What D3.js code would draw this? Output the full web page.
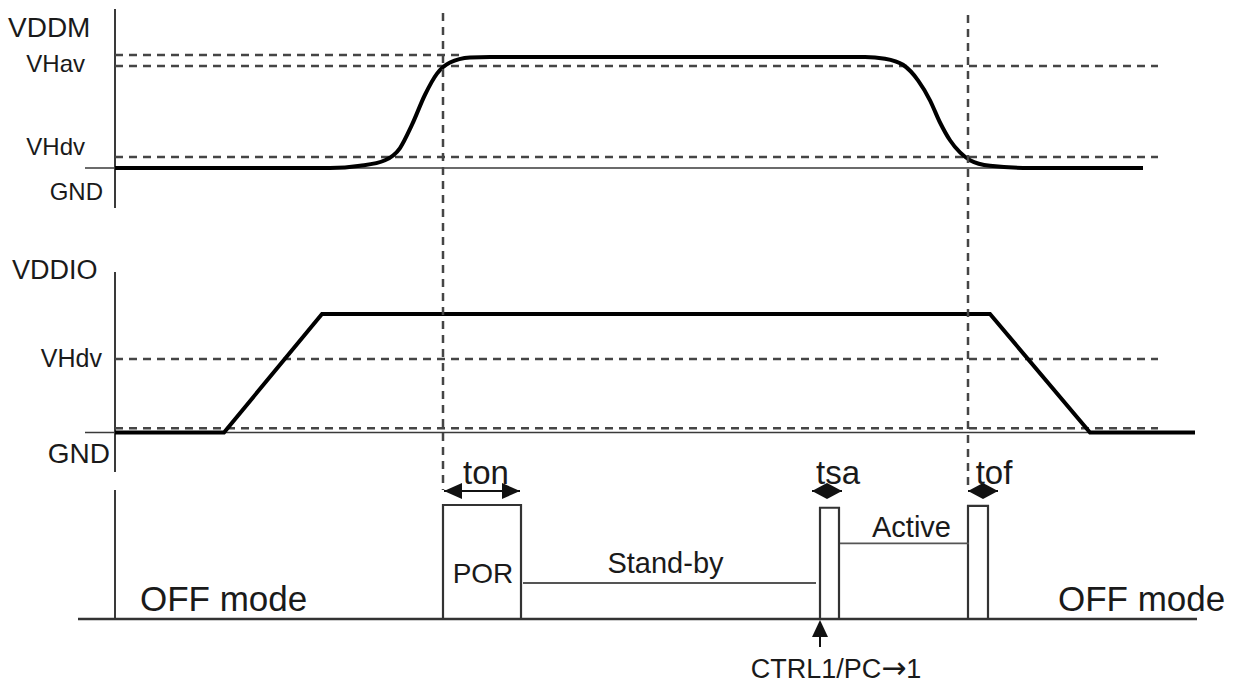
<!DOCTYPE html>
<html>
<head>
<meta charset="utf-8">
<script src="https://cdn.jsdelivr.net/npm/d3@7"></script>
<style>
  body { margin: 0; background: #fff; }
  text { font-family: "Liberation Sans", Arial, sans-serif; fill: #1a1a1a; }
</style>
</head>
<body>
<svg id="chart"></svg>
<script>
// time runs in arbitrary units, 0 = the vertical axes
// VDDM supply: [time, fraction of full level]
var vddmPoints = [[0, 0], [21.5, 0], [24.5, 0.02], [27, 0.07], [28.5, 0.18], [29.7, 0.39], [31, 0.66],
                  [32.2, 0.85], [33.5, 0.95], [35.5, 0.995], [37.5, 1], [75, 1], [77, 0.985], [78.8, 0.93],
                  [80.3, 0.79], [81.5, 0.61], [82.5, 0.41], [83.5, 0.25], [84.5, 0.14], [85.5, 0.07],
                  [87.5, 0.02], [91.5, 0], [102.8, 0]];
var vddmThresholds = [1.018, 0.919, 0.099];
var vddmThresholdEnds = [34.5, 104.3, 104.3];
var vddmLabels = ["VDDM", "VHav", "VHdv", "GND"];

// VDDIO supply
var vddioPoints = [[0, 0], [10.9, 0], [20.7, 1], [87.5, 1], [97.5, 0], [108, 0]];
var vddioThresholds = [0.62, 0.035];
var vddioThresholdEnds = [104.3, 104.3];
var vddioLabels = ["VDDIO", "VHdv", "GND"];

// event markers (dashed verticals)
var markerTimes = [32.8, 85.3];

// pulses in the mode row
var pulseStart = [32.8, 70.5, 85.3];
var pulseEnd = [40.6, 72.4, 87.3];
var pulseLevel = [1, 0.976, 0.993];

// steady states between pulses
var stateNames = ["Stand-by", "Active"];
var stateStart = [40.8, 72.5];
var stateEnd = [70.1, 85.4];
var stateLevel = [0.316, 0.664];

// timing arrows
var spanNames = ["ton", "tsa", "tof"];
var spanStart = [32.9, 69.7, 85.3];
var spanEnd = [40.5, 72.7, 88.3];

var offModeTimes = [2.5, 94.3];
var ctrlTime = 70.5;
var ctrlLabel = ["CTRL1/PC", "\u2192", "1"];

var width = 1236, height = 685;
var svg = d3.select("#chart").attr("width", width).attr("height", height);

var x = d3.scaleLinear().domain([0, 108]).range([115, 1195]);
var yTop = d3.scaleLinear().domain([0, 1]).range([168, 57]);
var yMid = d3.scaleLinear().domain([0, 1]).range([432.5, 314]);
var yBot = d3.scaleLinear().domain([0, 1]).range([619, 505]);

var axisColor = "#3a3a3a", dashColor = "#454545";

function vline(x0, y0, y1, w) {
	svg.append("line").attr("x1", x0).attr("x2", x0).attr("y1", y0).attr("y2", y1)
	   .attr("stroke", axisColor).attr("stroke-width", w || 2);
}
function hline(x0, x1, y0, w, c) {
	svg.append("line").attr("x1", x0).attr("x2", x1).attr("y1", y0).attr("y2", y0)
	   .attr("stroke", c || axisColor).attr("stroke-width", w || 1.5);
}
function label(txt, px, py, size, anchor) {
	return svg.append("text").attr("x", px).attr("y", py).attr("font-size", size)
	   .attr("text-anchor", anchor || "start").text(txt);
}

// ---- VDDM panel ----
vline(x(0), 9, 208);
hline(x(-3), x(102.5), yTop(0), 1.5);
svg.selectAll(".thTop").data(vddmThresholds).enter().append("line")
   .attr("x1", x(0)).attr("x2", function(d, i) { return x(vddmThresholdEnds[i]); })
   .attr("y1", function(d) { return yTop(d); }).attr("y2", function(d) { return yTop(d); })
   .attr("stroke", dashColor).attr("stroke-width", 2.5).attr("stroke-dasharray", "8,6");

var lineTop = d3.line().x(function(d) { return x(d[0]); }).y(function(d) { return yTop(d[1]); })
                .curve(d3.curveMonotoneX);
svg.append("path").datum(vddmPoints).attr("d", lineTop)
   .attr("fill", "none").attr("stroke", "#000").attr("stroke-width", 4);

label(vddmLabels[0], 8, 37, 28);
label(vddmLabels[1], 85, yTop(vddmThresholds[1]) + 6, 24, "end");
label(vddmLabels[2], 85, yTop(vddmThresholds[2]) - 2, 24, "end");
label(vddmLabels[3], 103, yTop(0) + 32, 24, "end");

// ---- VDDIO panel ----
vline(x(0), 272, 472);
hline(x(-3), x(108), yMid(0), 1.5);
svg.selectAll(".thMid").data(vddioThresholds).enter().append("line")
   .attr("x1", x(0)).attr("x2", function(d, i) { return x(vddioThresholdEnds[i]); })
   .attr("y1", function(d) { return yMid(d); }).attr("y2", function(d) { return yMid(d); })
   .attr("stroke", dashColor).attr("stroke-width", 2.5).attr("stroke-dasharray", "8,6");

var lineMid = d3.line().x(function(d) { return x(d[0]); }).y(function(d) { return yMid(d[1]); });
svg.append("path").datum(vddioPoints).attr("d", lineMid)
   .attr("fill", "none").attr("stroke", "#000").attr("stroke-width", 4)
   .attr("stroke-linejoin", "miter");

label(vddioLabels[0], 12, 279, 27);
label(vddioLabels[1], 102, yMid(vddioThresholds[0]) + 8, 25, "end");
label(vddioLabels[2], 110, yMid(0) + 30, 28, "end");

// ---- event markers ----
svg.selectAll(".marker").data(markerTimes).enter().append("line")
   .attr("x1", function(d) { return x(d); }).attr("x2", function(d) { return x(d); })
   .attr("y1", function(d, i) { return i === 0 ? 13 : 15; }).attr("y2", 490)
   .attr("stroke", dashColor).attr("stroke-width", 2.5).attr("stroke-dasharray", "8,6");

// ---- mode row ----
vline(x(0), 490, yBot(0));
hline(x(-3.7), x(108.2), yBot(0), 2.5, "#333");

svg.selectAll(".pulse").data(pulseStart).enter().append("path")
   .attr("d", function(d, i) {
   	var x0 = x(d), x1 = x(pulseEnd[i]), yb = yBot(0), yt = yBot(pulseLevel[i]);
   	return "M" + x0 + "," + yb + "V" + yt + "H" + x1 + "V" + yb;
   })
   .attr("fill", "none").attr("stroke", "#333").attr("stroke-width", 2.2);

svg.selectAll(".state").data(stateNames).enter().append("line")
   .attr("x1", function(d, i) { return x(stateStart[i]); })
   .attr("x2", function(d, i) { return x(stateEnd[i]); })
   .attr("y1", function(d, i) { return yBot(stateLevel[i]); })
   .attr("y2", function(d, i) { return yBot(stateLevel[i]); })
   .attr("stroke", "#555").attr("stroke-width", 1.8);
svg.selectAll(".stateLabel").data(stateNames).enter().append("text")
   .attr("x", function(d, i) { return (x(stateStart[i]) + x(stateEnd[i])) / 2 + (i === 0 ? -4 : 7); })
   .attr("y", function(d, i) { return yBot(stateLevel[i]) - (i === 0 ? 10 : 6); })
   .attr("font-size", 29).attr("text-anchor", "middle").text(function(d) { return d; });

label("POR", (x(pulseStart[0]) + x(pulseEnd[0])) / 2 + 1, yBot(0) - 36, 28, "middle");

offModeTimes.forEach(function(t) { label("OFF mode", x(t), 611, 35); });

// timing arrows
var arrowY = 491;
function head(tipX, dir, len, h) {
	return "M" + tipX + "," + arrowY + "L" + (tipX + dir * len) + "," + (arrowY - h) +
	       "L" + (tipX + dir * len) + "," + (arrowY + h) + "Z";
}
spanNames.forEach(function(name, i) {
	var x0 = x(spanStart[i]), x1 = x(spanEnd[i]);
	var len = Math.min(18, (x1 - x0) / 2), h = 8;
	hline(x0, x1, arrowY, 2, "#111");
	svg.append("path").attr("d", head(x0, 1, len, h)).attr("fill", "#111");
	svg.append("path").attr("d", head(x1, -1, len, h)).attr("fill", "#111");
	var mid = (x0 + x1) / 2;
	label(name, mid + (x1 - x0 < 40 ? 11 : 4), 484, 33, "middle");
});

// control arrow
var cx = x(ctrlTime);
svg.append("line").attr("x1", cx).attr("x2", cx).attr("y1", 647).attr("y2", 630)
   .attr("stroke", "#111").attr("stroke-width", 2);
svg.append("path").attr("d", "M" + cx + ",620L" + (cx - 8) + ",637L" + (cx + 8) + ",637Z").attr("fill", "#111");
var ctrl = svg.append("text").attr("x", cx + 16).attr("y", 678).attr("font-size", 27)
   .attr("text-anchor", "middle");
ctrl.append("tspan").text(ctrlLabel[0]);
ctrl.append("tspan").attr("font-family", "DejaVu Sans").attr("font-size", 30).text(ctrlLabel[1]);
ctrl.append("tspan").text(ctrlLabel[2]);
</script>
</body>
</html>
